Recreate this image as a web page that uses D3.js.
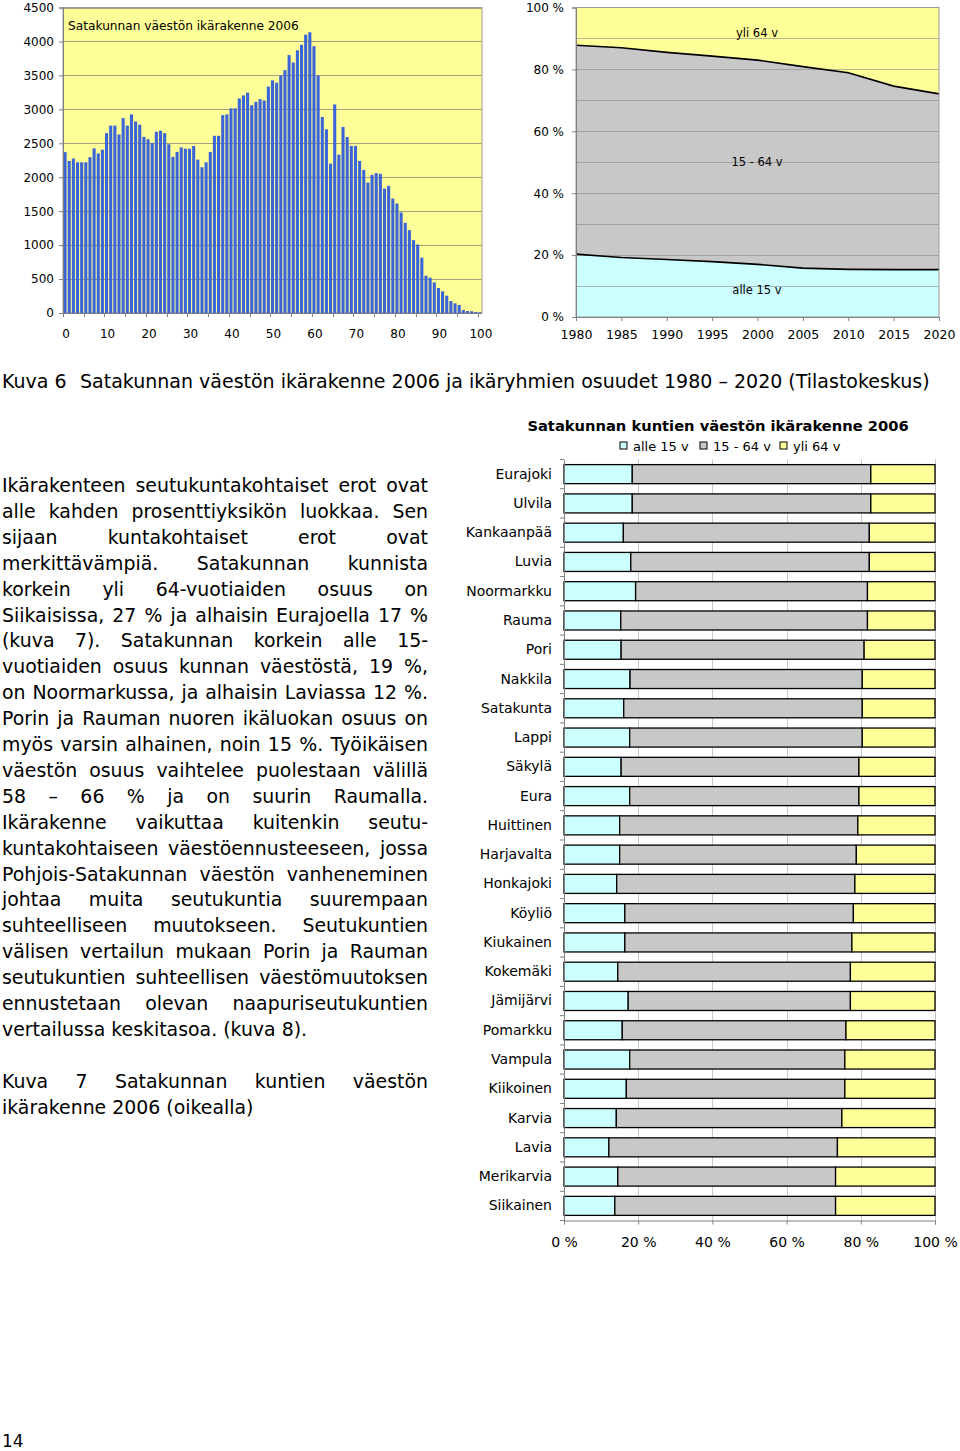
<!DOCTYPE html>
<html><head><meta charset="utf-8">
<script src="https://cdn.jsdelivr.net/npm/d3@7"></script>
<style>
html,body{margin:0;padding:0;background:#fff;}
svg{display:block;font-family:"DejaVu Sans",Verdana,sans-serif;}
</style></head>
<body>
<svg id="c" width="960" height="1451"></svg>
<script>
// ---------- DATA ----------
const ages = d3.range(0, 101);
const ageTickLabels = ["0","10","20","30","40","50","60","70","80","90","100"];
const popByAge = [2370,2240,2275,2220,2220,2220,2295,2425,2350,2405,
  2650,2760,2760,2630,2870,2760,2925,2820,2775,2595,
  2560,2505,2670,2685,2650,2485,2300,2373,2440,2420,
  2420,2460,2260,2147,2220,2373,2610,2610,2915,2925,
  3015,3015,3160,3205,3245,3060,3110,3150,3130,3335,
  3426,3392,3500,3578,3800,3690,3870,3950,4100,4135,
  3930,3500,2888,2705,2200,3072,2333,2740,2593,2461,
  2461,2240,2108,1922,2035,2060,2050,1833,1873,1686,
  1613,1480,1328,1220,1073,1010,814,549,520,451,
  368,319,255,176,142,118,44,29,25,15,10];
const histYTicks = [0,500,1000,1500,2000,2500,3000,3500,4000,4500];

const years = [1980,1985,1990,1995,2000,2005,2010,2015,2020];
const shareUnder15 = [20.3,19.2,18.6,17.9,17.0,15.8,15.4,15.3,15.3];
const share15to64 = [67.5,67.8,66.9,66.4,66.0,65.1,63.5,59.3,56.8];
const shareOver64 = [12.2,13.0,14.5,15.7,17.0,19.1,21.1,25.4,27.9];
const areaYTicks = [0,20,40,60,80,100];
const areaGrid = [10,20,30,40,50,60,70,80,90];

const municipalities = ["Eurajoki","Ulvila","Kankaanpää","Luvia","Noormarkku","Rauma","Pori","Nakkila","Satakunta","Lappi","Säkylä","Eura","Huittinen","Harjavalta","Honkajoki","Köyliö","Kiukainen","Kokemäki","Jämijärvi","Pomarkku","Vampula","Kiikoinen","Karvia","Lavia","Merikarvia","Siikainen"];
const munUnder15 = [18.4,18.4,16.0,18.0,19.3,15.3,15.4,17.8,16.1,17.7,15.4,17.7,15.0,15.0,14.2,16.4,16.4,14.5,17.3,15.7,17.7,16.8,14.1,12.1,14.5,13.7];
const mun15to64 = [64.3,64.3,66.3,64.3,62.5,66.5,65.5,62.6,64.3,62.7,64.1,61.8,64.2,63.8,64.2,61.6,61.2,62.7,59.9,60.3,58.0,58.9,60.8,61.6,58.7,59.5];
const munOver64 = [17.3,17.3,17.7,17.7,18.2,18.2,19.1,19.6,19.6,19.6,20.5,20.5,20.8,21.2,21.6,22.0,22.4,22.8,22.8,24.0,24.3,24.3,25.1,26.3,26.8,26.8];
const barXTicks = [0,20,40,60,80,100];
const groupNames = ["alle 15 v","15 - 64 v","yli 64 v"];
const groupColors = ["#ccffff","#c8c8c8","#ffff99"];

const paragraph = [
 "Ikärakenteen seutukuntakohtaiset erot ovat",
 "alle kahden prosenttiyksikön luokkaa. Sen",
 "sijaan kuntakohtaiset erot ovat",
 "merkittävämpiä. Satakunnan kunnista",
 "korkein yli 64-vuotiaiden osuus on",
 "Siikaisissa, 27 % ja alhaisin Eurajoella 17 %",
 "(kuva 7). Satakunnan korkein alle 15-",
 "vuotiaiden osuus kunnan väestöstä, 19 %,",
 "on Noormarkussa, ja alhaisin Laviassa 12 %.",
 "Porin ja Rauman nuoren ikäluokan osuus on",
 "myös varsin alhainen, noin 15 %. Työikäisen",
 "väestön osuus vaihtelee puolestaan välillä",
 "58 – 66 % ja on suurin Raumalla.",
 "Ikärakenne vaikuttaa kuitenkin seutu-",
 "kuntakohtaiseen väestöennusteeseen, jossa",
 "Pohjois-Satakunnan väestön vanheneminen",
 "johtaa muita seutukuntia suurempaan",
 "suhteelliseen muutokseen. Seutukuntien",
 "välisen vertailun mukaan Porin ja Rauman",
 "seutukuntien suhteellisen väestömuutoksen",
 "ennustetaan olevan naapuriseutukuntien",
 "vertailussa keskitasoa. (kuva 8)."
];
const caption7 = ["Kuva 7 Satakunnan kuntien väestön","ikärakenne 2006 (oikealla)"];

// ---------- DRAW ----------
const svg = d3.select("#c");
svg.append("rect").attr("width",960).attr("height",1451).attr("fill","#fff");

// ===== Histogram =====
(function(){
  const g = svg.append("g");
  const x = d3.scaleBand().domain(ages).range([63, 482]);
  const y = d3.scaleLinear().domain([0,4500]).range([313, 7.5]);
  g.append("rect").attr("x",63).attr("y",y(4500)).attr("width",482-63).attr("height",y(0)-y(4500))
    .attr("fill","#ffff99").attr("stroke","#9a9a9a").attr("stroke-width",1);
  g.selectAll("line.grid").data(histYTicks.slice(1)).join("line")
    .attr("x1",63).attr("x2",482).attr("y1",d=>Math.round(y(d))+0.5).attr("y2",d=>Math.round(y(d))+0.5)
    .attr("stroke","#a4a27a").attr("stroke-width",1);
  const bw = x.bandwidth()*0.74;
  g.selectAll("rect.bar").data(popByAge).join("rect")
    .attr("x",(d,i)=>x(ages[i]) + (x.bandwidth()-bw)/2)
    .attr("width",bw)
    .attr("y",d=>y(d)).attr("height",d=>y(0)-y(d))
    .attr("fill","#3b64d8");
  const ya = d3.axisLeft(y).tickValues(histYTicks).tickSize(4).tickFormat(d3.format("d"));
  const yg = g.append("g").attr("transform","translate(63,0)").call(ya);
  yg.select(".domain").attr("stroke","#808080");
  yg.selectAll(".tick line").attr("stroke","#808080");
  yg.selectAll("text").attr("font-size",12).attr("fill","#000").attr("x",-9).attr("font-family","DejaVu Sans");
  const xl = g.append("g").attr("transform","translate(0,313)");
  xl.append("line").attr("x1",63).attr("x2",482).attr("y1",0.5).attr("y2",0.5).attr("stroke","#808080");
  xl.selectAll("line.t").data(ages.filter(a=>a%5===0)).join("line")
    .attr("x1",d=>Math.round(x(d))+0.5).attr("x2",d=>Math.round(x(d))+0.5).attr("y1",0).attr("y2",4).attr("stroke","#808080");
  xl.selectAll("text").data(ageTickLabels).join("text")
    .attr("x",d=>x(+d)+x.bandwidth()/2 + 1).attr("y",25).attr("text-anchor","middle")
    .attr("font-size",12).text(d=>d);
  g.append("text").attr("x",68).attr("y",30).attr("font-size",12.2).text("Satakunnan väestön ikärakenne 2006");
})();

// ===== Area chart =====
(function(){
  const g = svg.append("g");
  const x = d3.scaleLinear().domain([1980,2020]).range([576,939]);
  const y = d3.scaleLinear().domain([0,100]).range([317,7.5]);
  const rows = years.map((yr,i)=>({year:yr, a:shareUnder15[i], b:share15to64[i], c:shareOver64[i]}));
  const stack = d3.stack().keys(["a","b","c"])(rows);
  const area = d3.area().x(d=>x(d.data.year)).y0(d=>y(d[0])).y1(d=>y(d[1]));
  g.selectAll("path.area").data(stack).join("path").attr("d",area).attr("fill",(d,i)=>groupColors[i]);
  g.selectAll("line.grid").data(areaGrid).join("line")
    .attr("x1",576).attr("x2",939).attr("y1",d=>Math.round(y(d))+0.5).attr("y2",d=>Math.round(y(d))+0.5)
    .attr("stroke","#8c8c8c").attr("stroke-width",0.8).attr("opacity",0.8);
  const line = d3.line().x(d=>x(d.data.year)).y(d=>y(d[1]));
  g.selectAll("path.ln").data(stack.slice(0,2)).join("path").attr("d",line)
    .attr("fill","none").attr("stroke","#000").attr("stroke-width",1.6);
  g.append("rect").attr("x",576).attr("y",y(100)).attr("width",939-576).attr("height",y(0)-y(100))
    .attr("fill","none").attr("stroke","#9a9a9a");
  const ya = d3.axisLeft(y).tickValues(areaYTicks).tickSize(4).tickFormat(d=>d+" %");
  const yg = g.append("g").attr("transform","translate(576,0)").call(ya);
  yg.select(".domain").attr("stroke","#808080");
  yg.selectAll(".tick line").attr("stroke","#808080");
  yg.selectAll("text").attr("font-size",12).attr("fill","#000").attr("x",-12).attr("font-family","DejaVu Sans");
  const xa = d3.axisBottom(x).tickValues(years).tickSize(4).tickFormat(d3.format("d"));
  const xg = g.append("g").attr("transform","translate(0,317)").call(xa);
  xg.select(".domain").attr("stroke","#808080");
  xg.selectAll(".tick line").attr("stroke","#808080");
  xg.selectAll("text").attr("font-size",12.5).attr("fill","#000").attr("y",13).attr("font-family","DejaVu Sans");
  g.selectAll("text.lab").data(groupNames.slice().reverse()).join("text")
    .attr("x",757).attr("y",(d,i)=>y([91.8,50.2,8.7][i])+4).attr("text-anchor","middle").attr("font-size",11.5)
    .text(d=>d);
})();

// ===== Caption 6 =====
svg.append("text").attr("x",2).attr("y",388).attr("font-size",19).text("Kuva 6");
svg.append("text").attr("x",80).attr("y",388).attr("font-size",19)
  .text("Satakunnan väestön ikärakenne 2006 ja ikäryhmien osuudet 1980 – 2020 (Tilastokeskus)");

// ===== Paragraph (justified) =====
function setLine(x0, x1, yb, str, justify, fs){
  const t = svg.append("text").attr("y",yb).attr("font-size",fs);
  if(!justify){ t.attr("x",x0).text(str); return; }
  const words = str.split(" ");
  const spans = words.map(w=>t.append("tspan").text(w));
  const widths = spans.map(s=>s.node().getComputedTextLength());
  const sum = d3.sum(widths);
  const gap = words.length>1 ? (x1-x0-sum)/(words.length-1) : 0;
  let xx = x0;
  spans.forEach((s,i)=>{ s.attr("x",xx); xx += widths[i]+gap; });
}
paragraph.forEach((ln,i)=>{
  setLine(2, 428, 492 + i*25.9, ln, i<paragraph.length-1, 18.9);
});
setLine(2, 428, 1088, caption7[0], true, 18.9);
setLine(2, 428, 1114, caption7[1], false, 18.9);

// ===== Stacked bar chart =====
(function(){
  const g = svg.append("g");
  const x = d3.scaleLinear().domain([0,100]).range([564,935]);
  const y = d3.scaleBand().domain(municipalities).range([459.5,1220.5]).paddingInner(0.35).paddingOuter(0.175);
  g.selectAll("line.grid").data(barXTicks.slice(1)).join("line")
    .attr("x1",d=>Math.round(x(d))+0.5).attr("x2",d=>Math.round(x(d))+0.5).attr("y1",459.5).attr("y2",1220.5)
    .attr("stroke","#c8c8c8").attr("stroke-width",1);
  const rows = municipalities.map((m,i)=>({m, a:munUnder15[i], b:mun15to64[i], c:munOver64[i]}));
  const stack = d3.stack().keys(["a","b","c"]).offset(d3.stackOffsetExpand)(rows);
  g.selectAll("g.ser").data(stack).join("g").attr("fill",(d,i)=>groupColors[i])
    .selectAll("rect").data(d=>d).join("rect")
    .attr("x",d=>x(d[0]*100)).attr("width",d=>x(d[1]*100)-x(d[0]*100))
    .attr("y",d=>y(d.data.m)).attr("height",y.bandwidth())
    .attr("stroke","#000").attr("stroke-width",1.3);
  const ya = d3.axisLeft(y).tickSize(0).tickPadding(12);
  const yg = g.append("g").attr("transform","translate(564,0)").call(ya);
  yg.select(".domain").attr("stroke","#808080");
  yg.selectAll("text").attr("font-size",14).attr("fill","#000").attr("font-family","DejaVu Sans");
  const bounds = municipalities.map(m=>y(m)-y.step()*y.paddingInner()/2).concat([1220.5]);
  g.selectAll("line.yt").data(bounds).join("line")
    .attr("x1",560).attr("x2",564).attr("y1",d=>d).attr("y2",d=>d).attr("stroke","#808080");
  const xa = d3.axisBottom(x).tickValues(barXTicks).tickSize(4).tickFormat(d=>d+" %");
  const xg = g.append("g").attr("transform","translate(0,1220.5)").call(xa);
  xg.select(".domain").attr("stroke","#808080");
  xg.selectAll(".tick line").attr("stroke","#808080");
  xg.selectAll("text").attr("font-size",14).attr("fill","#000").attr("y",17).attr("font-family","DejaVu Sans");
  g.append("text").attr("x",718).attr("y",431).attr("text-anchor","middle").attr("font-size",14.7)
    .attr("font-weight","bold").text("Satakunnan kuntien väestön ikärakenne 2006");
  const legX = [620, 700, 780];
  const lg = g.selectAll("g.leg").data(groupNames).join("g").attr("transform",(d,i)=>`translate(${legX[i]},442)`);
  lg.append("rect").attr("width",7).attr("height",7).attr("fill",(d,i)=>groupColors[i]).attr("stroke","#000");
  lg.append("text").attr("x",13).attr("y",9).attr("font-size",13).text(d=>d);
})();

// page number
svg.append("text").attr("x",2).attr("y",1447).attr("font-size",17).text("14");
</script>
</body></html>
